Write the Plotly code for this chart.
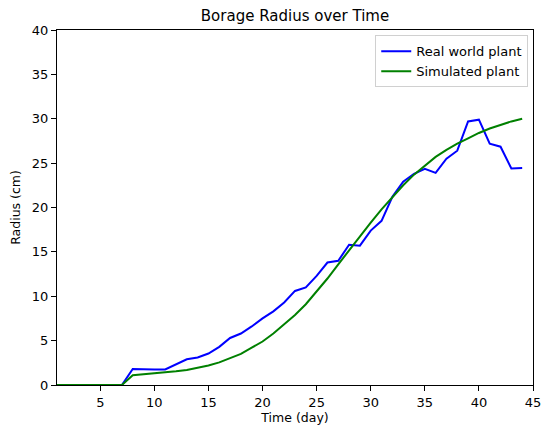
import plotly.graph_objects as go

days = list(range(1, 45))
real_world = [0, 0, 0, 0, 0, 0, 0,
              1.8, 1.75, 1.75, 1.75, 2.3, 2.9, 3.1, 3.55, 4.3, 5.3, 5.8, 6.6, 7.5,
              8.3, 9.3, 10.6, 11.0, 12.3, 13.8, 14.0, 15.8, 15.7, 17.4, 18.5, 21.2,
              22.9, 23.8, 24.35, 23.9, 25.5, 26.4, 29.7, 29.9, 27.2, 26.85, 24.4, 24.45]
simulated = [0, 0, 0, 0, 0, 0, 0,
             1.1, 1.2, 1.3, 1.43, 1.55, 1.7, 1.95, 2.2, 2.55, 3.0, 3.5, 4.2, 4.9,
             5.8, 6.8, 7.9, 9.1, 10.5, 12.0, 13.6, 15.2, 16.8, 18.3, 19.8, 21.2,
             22.5, 23.7, 24.7, 25.7, 26.5, 27.2, 27.8, 28.4, 28.9, 29.3, 29.7, 30.0]
x_ticks = [5, 10, 15, 20, 25, 30, 35, 40, 45]
y_ticks = [0, 5, 10, 15, 20, 25, 30, 35, 40]

fig = go.Figure()
fig.add_trace(go.Scatter(x=days, y=real_world, mode="lines", name="Real world plant",
                         line=dict(color="#0000ff", width=2)))
fig.add_trace(go.Scatter(x=days, y=simulated, mode="lines", name="Simulated plant",
                         line=dict(color="#008000", width=2)))

axis_common = dict(showgrid=False, zeroline=False, showline=True, linecolor="black",
                   linewidth=1, mirror=True, ticks="outside", ticklen=5, tickwidth=1,
                   tickcolor="black", tickfont=dict(size=13, color="black"),
                   automargin=False)
fig.update_layout(
    width=543, height=433,
    margin=dict(l=57, r=10, t=30, b=48),
    paper_bgcolor="white", plot_bgcolor="white",
    font=dict(family="DejaVu Sans", color="black", size=13),
    title=dict(text="Borage Radius over Time", x=0.5 * (57 + 533) / 543, xanchor="center",
               y=1 - 16 / 433, yanchor="middle", font=dict(size=15)),
    xaxis=dict(range=[1, 45], tickvals=x_ticks,
               title=dict(text="Time (day)", standoff=4, font=dict(size=12.5)),
               **axis_common),
    yaxis=dict(range=[0, 40], tickvals=y_ticks,
               title=dict(text="Radius (cm)", standoff=8, font=dict(size=12.5)),
               **axis_common),
    legend=dict(x=0.99, y=0.985, xanchor="right", yanchor="top", bgcolor="white",
                bordercolor="#d0d0d0", borderwidth=1, font=dict(size=13)),
    showlegend=True,
)
fig.write_html("out.html")
